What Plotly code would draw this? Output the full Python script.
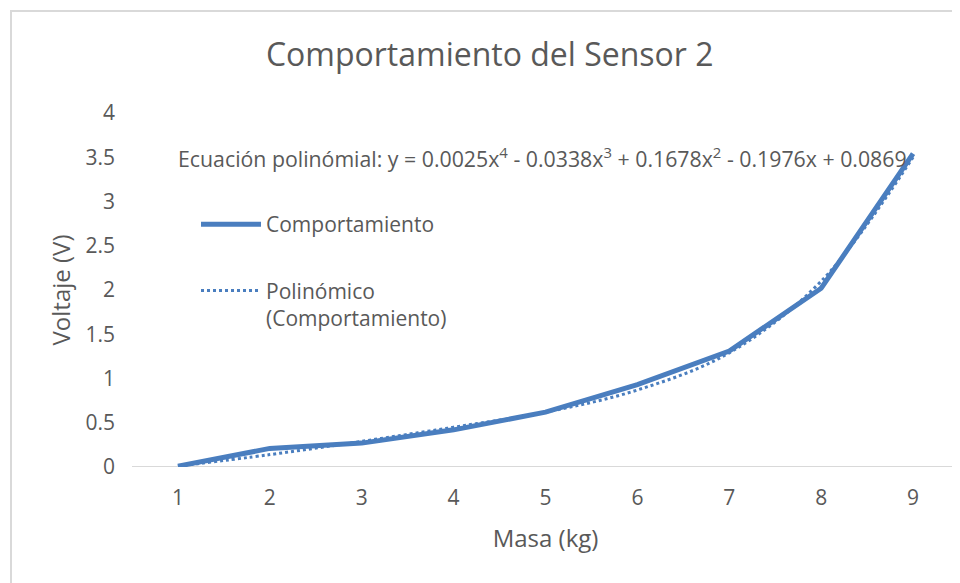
import plotly.graph_objects as go

masa = [1, 2, 3, 4, 5, 6, 7, 8, 9]
voltaje = [0.01, 0.21, 0.27, 0.42, 0.62, 0.93, 1.31, 2.02, 3.54]
voltaje_poli = [0.01, 0.14, 0.29, 0.45, 0.62, 0.87, 1.29, 2.10, 3.50]
y_ticks = [0, 0.5, 1, 1.5, 2, 2.5, 3, 3.5, 4]
y_tick_labels = ["0", "0.5", "1", "1.5", "2", "2.5", "3", "3.5", "4"]

title_text = "Comportamiento del Sensor 2"
equation = ("Ecuación polinómial: y = 0.0025x<sup>4</sup> - 0.0338x<sup>3</sup> + "
            "0.1678x<sup>2</sup> - 0.1976x + 0.0869")

blue = "#4a7ebf"
grey = "#595959"
font_family = "Open Sans, Liberation Sans, sans-serif"

fig = go.Figure()
fig.add_trace(go.Scatter(
    x=masa, y=voltaje, mode="lines", name="Comportamiento",
    line=dict(color=blue, width=5), legendgroup="a"))
fig.add_trace(go.Scatter(
    x=masa, y=voltaje_poli, mode="lines", name="Polinómico<br>(Comportamiento)",
    line=dict(color=blue, width=3, dash="dot", shape="spline"), legendgroup="b"))

fig.update_layout(
    width=952, height=575,
    margin=dict(l=124, r=1, t=105, b=116),
    paper_bgcolor="white", plot_bgcolor="white",
    font=dict(family=font_family, color=grey, size=20),
    title=dict(text=title_text, x=0.506, xanchor="center", y=0.918, yanchor="middle",
               font=dict(size=32, color=grey)),
    showlegend=True,
    legend=dict(x=0.0774, y=0.743, xanchor="left", yanchor="top", valign="top",
                bgcolor="rgba(0,0,0,0)", font=dict(size=21, color=grey),
                itemwidth=60, tracegroupgap=36),
    xaxis=dict(range=[0.5, 9.5], tickmode="array", tickvals=masa,
               showgrid=False, zeroline=False, showline=False, ticks="",
               tickfont=dict(size=21, color=grey), ticklabelstandoff=16,
               title=dict(text="Masa (kg)", font=dict(size=24, color=grey), standoff=20)),
    yaxis=dict(range=[0, 4], tickmode="array", tickvals=y_ticks, ticktext=y_tick_labels,
               showgrid=False, zeroline=False, showline=False, ticks="",
               tickfont=dict(size=21, color=grey), ticklabelstandoff=16,
               title=dict(text="Voltaje (V)", font=dict(size=24, color=grey), standoff=8)),
    shapes=[
        dict(type="line", xref="paper", yref="y", x0=0, x1=1, y0=0, y1=0,
             line=dict(color="#d9d9d9", width=2), layer="below"),
        dict(type="rect", xref="paper", yref="paper", x0=-0.1463, x1=1.05, y0=-0.5, y1=1.288,
             line=dict(color="#d9d9d9", width=2), layer="below"),
    ],
    annotations=[
        dict(text=equation, xref="paper", yref="paper", x=0.4964, y=0.8757,
             xanchor="center", yanchor="middle", showarrow=False,
             font=dict(size=21.3, color=grey)),
    ],
)

fig.write_html("out.html")
